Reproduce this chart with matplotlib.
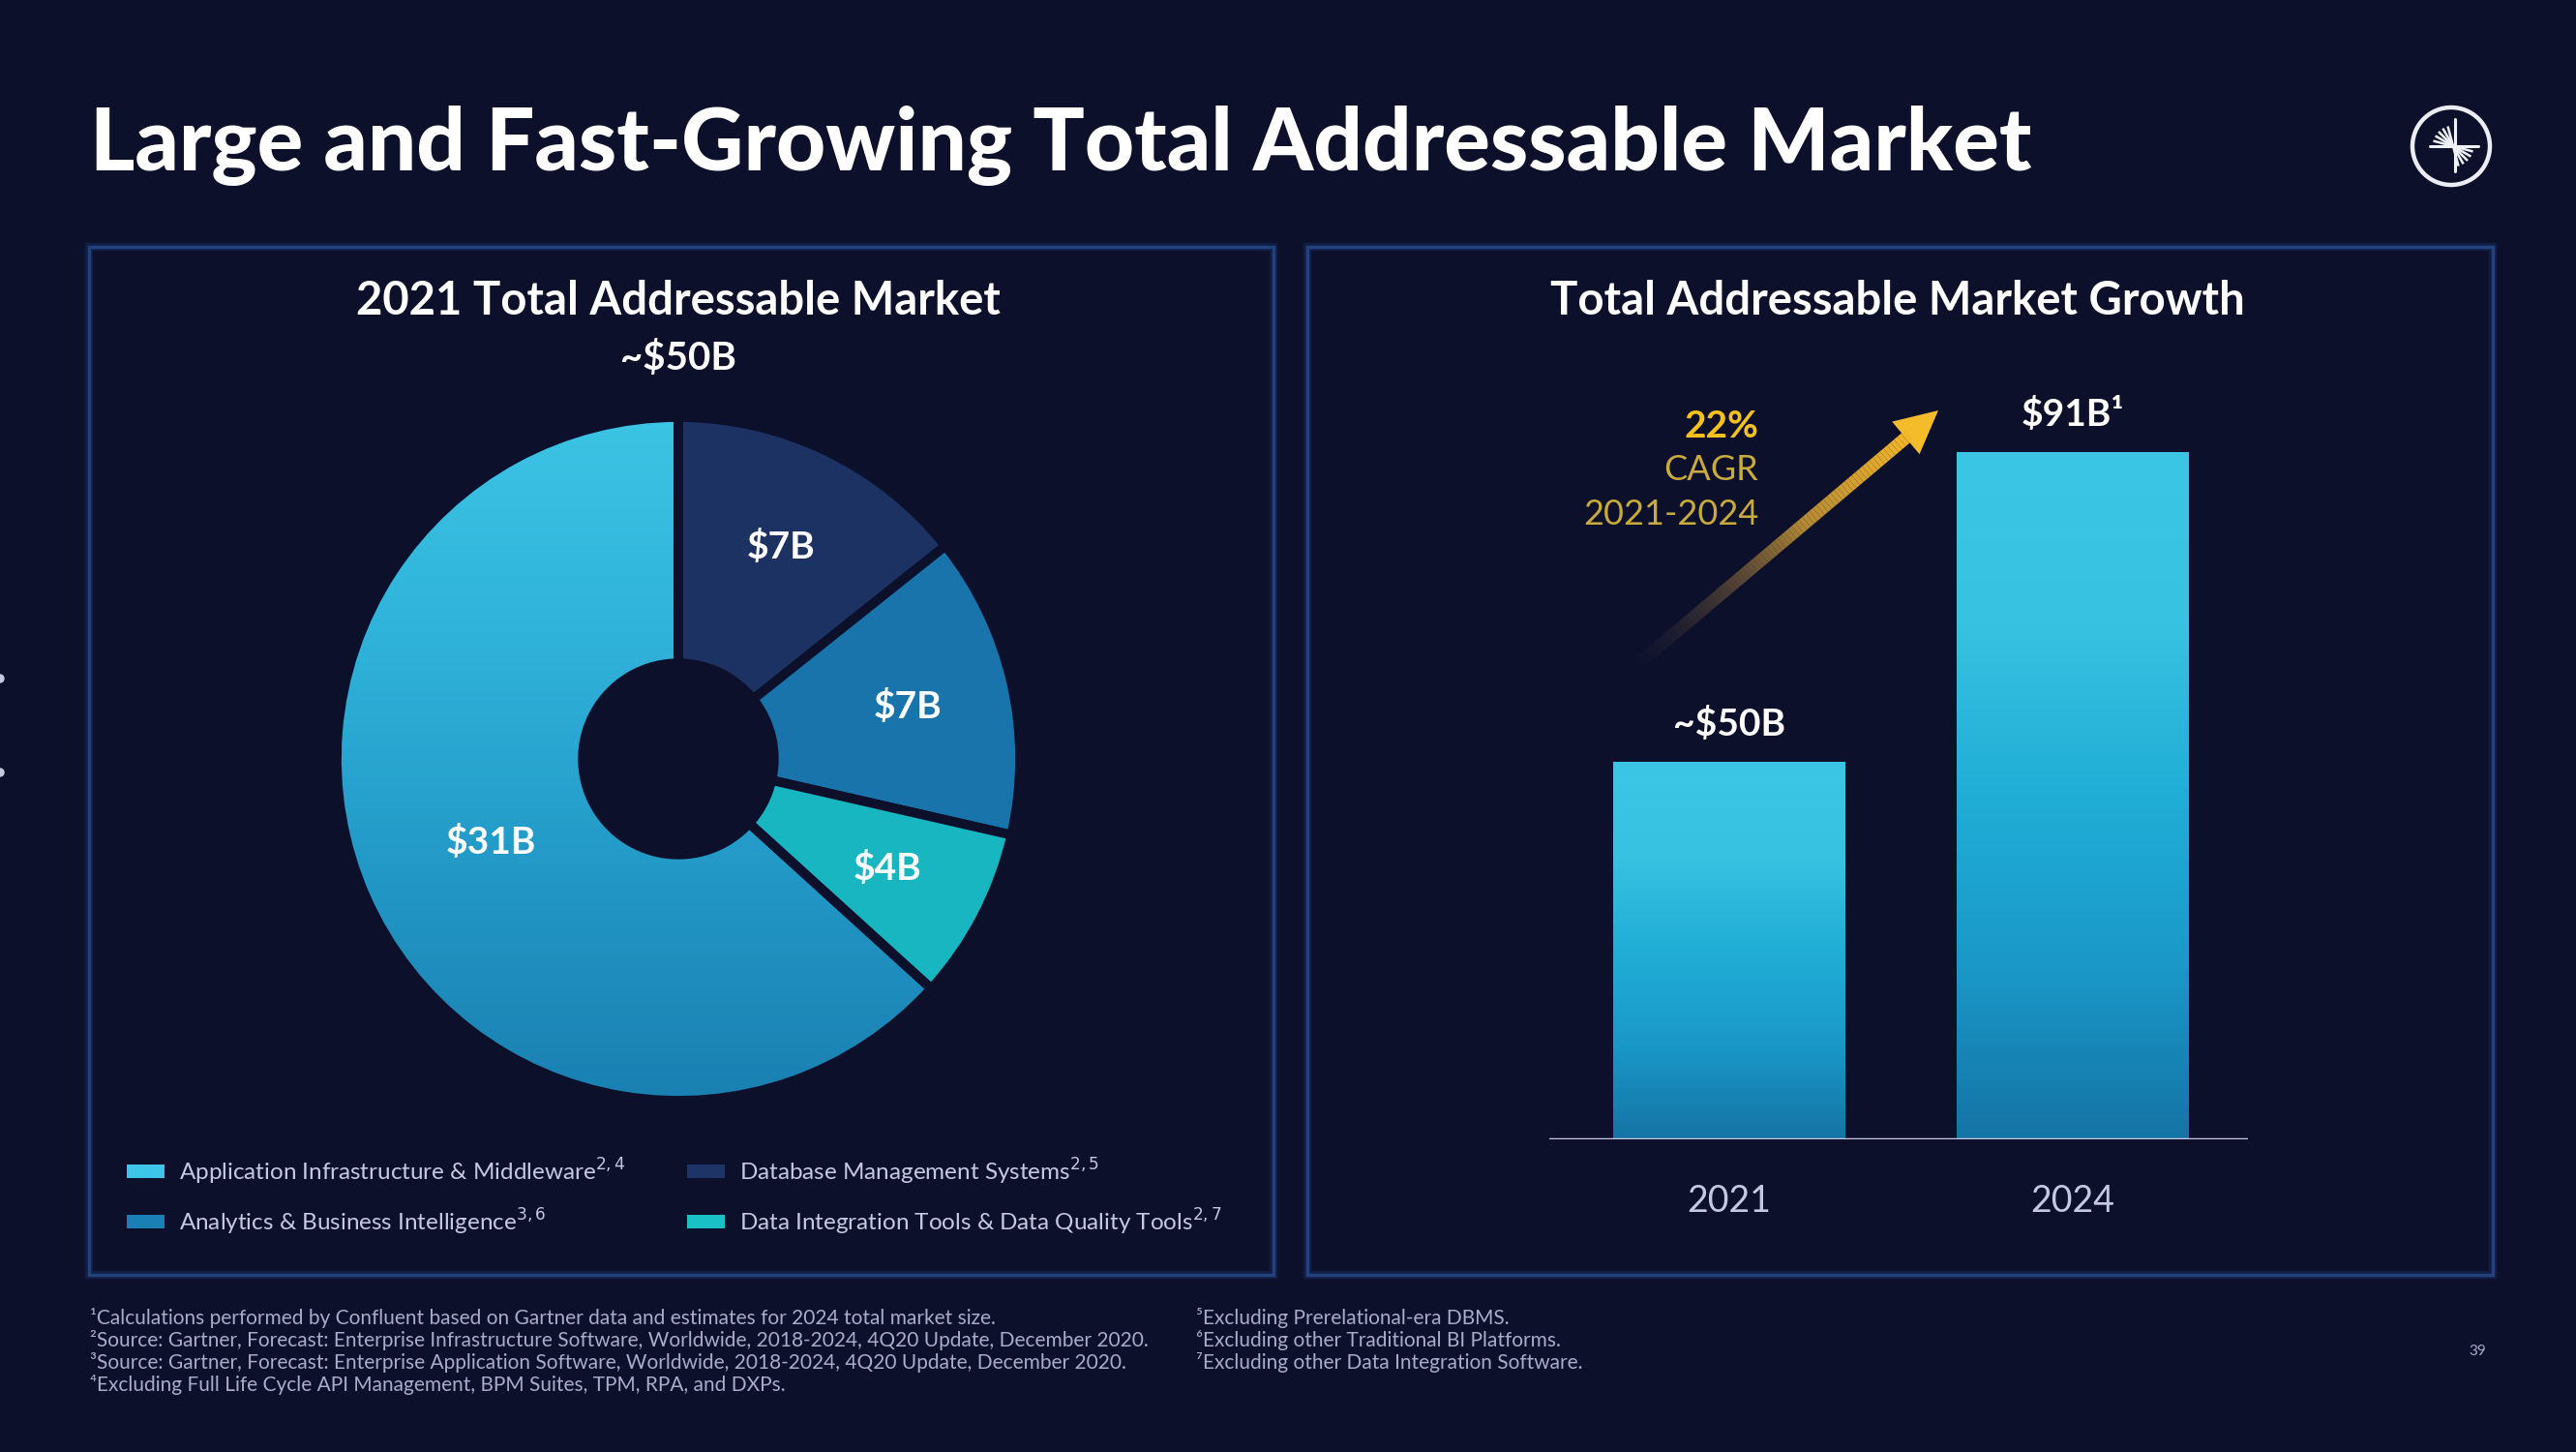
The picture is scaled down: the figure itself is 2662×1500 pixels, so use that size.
import numpy as np
import matplotlib
matplotlib.use("Agg")
import matplotlib.pyplot as plt
from matplotlib.patches import Rectangle, Circle, Polygon
from matplotlib.collections import LineCollection
from matplotlib.colors import LinearSegmentedColormap, to_rgba

# ---------------- data ----------------
title = "Large and Fast-Growing Total Addressable Market"
pie_title = "2021 Total Addressable Market"
pie_total = "~$50B"
segments = ["Database Management Systems", "Analytics & Business Intelligence",
            "Data Integration Tools & Data Quality Tools", "Application Infrastructure & Middleware"]
seg_values = [7, 7, 4, 31]
seg_labels = ["$7B", "$7B", "$4B", "$31B"]
seg_notes = ["2,5", "3,6", "2,7", "2,4"]

bar_title = "Total Addressable Market Growth"
years = ["2021", "2024"]
tam_values = [50, 91]
tam_labels = ["~$50B", "$91B¹"]
cagr_lines = ["22%", "CAGR", "2021-2024"]

foot_left = ["¹Calculations performed by Confluent based on Gartner data and estimates for 2024 total market size.",
             "²Source: Gartner, Forecast: Enterprise Infrastructure Software, Worldwide, 2018-2024, 4Q20 Update, December 2020.",
             "³Source: Gartner, Forecast: Enterprise Application Software, Worldwide, 2018-2024, 4Q20 Update, December 2020.",
             "⁴Excluding Full Life Cycle API Management, BPM Suites, TPM, RPA, and DXPs."]
foot_right = ["⁵Excluding Prerelational-era DBMS.",
              "⁶Excluding other Traditional BI Platforms.",
              "⁷Excluding other Data Integration Software."]
page_no = "39"

# ---------------- style ----------------
W, H = 2662, 1500
BG = "#0c102b"
PANEL = "#1b3670"
FONT = ["Lato", "DejaVu Sans"]
seg_colors = ["#1c3263", "#1874aa", "#17b6c0", "#2fb4dc"]
legend_colors = ["#1d3566", "#1a7fb5", "#19c1c6", "#3ec6e8"]
TXT = "#ffffff"
SUB = "#c4c8e0"
FOOT = "#a8accb"

plt.rcParams["font.family"] = FONT

fig = plt.figure(figsize=(W / 100, H / 100), dpi=100, facecolor=BG)


def px_rect(l, t, r, b):
    return [l / W, 1 - b / H, (r - l) / W, (b - t) / H]


bg = fig.add_axes([0, 0, 1, 1], zorder=0)
bg.set_xlim(0, W)
bg.set_ylim(H, 0)
bg.axis("off")
bg.set_facecolor(BG)

# panels
for (l, r) in [(92, 1316), (1351, 2576)]:
    bg.add_patch(Rectangle((l, 255), r - l, 1317 - 255, fill=False, ec=PANEL, lw=6, alpha=0.35))
    bg.add_patch(Rectangle((l, 255), r - l, 1317 - 255, fill=False, ec="#22427e", lw=2.5))

# title
bg.text(93, 150, title, color=TXT, fontsize=64, fontweight="black", va="center", ha="left")

# logo
bg.add_patch(Circle((2533, 151), 40, fill=False, ec="#ececf4", lw=3.2))
cx, cy = 2535, 151
bg.plot([cx - 24, cx + 26], [cy, cy], color="#f0f0f8", lw=2.2, solid_capstyle="round")
bg.plot([cx + 2, cx + 2], [cy - 28, cy + 26], color="#f0f0f8", lw=2.2, solid_capstyle="round")
for ang in np.linspace(105, 165, 5):
    a = np.radians(ang)
    bg.plot([cx, cx + 20 * np.cos(a)], [cy, cy - 20 * np.sin(a)], color="#f0f0f8", lw=1.8)
for ang in np.linspace(-15, -75, 5):
    a = np.radians(ang)
    bg.plot([cx, cx + 20 * np.cos(a)], [cy, cy - 20 * np.sin(a)], color="#f0f0f8", lw=1.8)

# left edge dots
for yy in (701, 798):
    bg.add_patch(Circle((0, yy), 4, color="#c8c8e0"))

# panel titles
bg.text(701, 311, pie_title, color=TXT, fontsize=34, fontweight="bold", ha="center", va="center")
bg.text(701, 370, pie_total, color=TXT, fontsize=29, fontweight="bold", ha="center", va="center")
bg.text(1961, 311, bar_title, color=TXT, fontsize=34, fontweight="bold", ha="center", va="center")

# legend (column 1: app infra, analytics; column 2: DBMS, data integration)
legend_order = [3, 1, 0, 2]
legend_pos = [(131, 1210), (131, 1262), (710, 1210), (710, 1262)]
for idx, (lx, ly) in zip(legend_order, legend_pos):
    bg.add_patch(Rectangle((lx, ly - 7), 39, 14, color=legend_colors[idx], lw=0))
    bg.text(lx + 54, ly, segments[idx] + r"$^{" + seg_notes[idx] + "}$", color=SUB,
            fontsize=17.5, ha="left", va="center")

# footnotes
for i, s in enumerate(foot_left):
    bg.text(93, 1362 + i * 22.7, s, color=FOOT, fontsize=15, ha="left", va="center")
for i, s in enumerate(foot_right):
    bg.text(1236, 1362 + i * 22.7, s, color=FOOT, fontsize=15, ha="left", va="center")
bg.text(2560, 1396, page_no, color=FOOT, fontsize=11, ha="center", va="center")

# CAGR annotation + gradient arrow
bg.text(1817, 440, cagr_lines[0], color="#f5c21c", fontsize=28, fontweight="bold", ha="right", va="center")
bg.text(1817, 486, cagr_lines[1], color="#c9aa3c", fontsize=26, ha="right", va="center")
bg.text(1817, 532, cagr_lines[2], color="#c9aa3c", fontsize=26, ha="right", va="center")

tail = np.array([1681.0, 696.0])
tip = np.array([2003.0, 424.0])
d = tip - tail
L = np.linalg.norm(d)
u = d / L
perp = np.array([-u[1], u[0]])
head_len = 44
base = tip - u * head_len
n = 80
pts = tail + np.outer(np.linspace(0, 1, n + 1), base + u * 4 - tail)
segs = np.stack([pts[:-1], pts[1:]], axis=1)
c0 = np.array(to_rgba("#4a3c48"))
c1 = np.array(to_rgba("#f2b62a"))
t = np.linspace(0, 1, n)
cols = (1 - t)[:, None] * c0 + t[:, None] * c1
cols[:, 3] = np.clip(t * 1.6, 0, 1) ** 1.2
bg.add_collection(LineCollection(segs, colors=cols, linewidths=9.5, capstyle="butt"))
bg.add_patch(Polygon([tip, base + perp * 22, base - perp * 22], closed=True, color="#f4bc2a", lw=0))

# ---------------- donut ----------------
R_PX = 353
CX, CY = 701, 784
half = 1.1 * R_PX
pax = fig.add_axes(px_rect(CX - half, CY - half, CX + half, CY + half), zorder=1)
pax.set_facecolor("none")
wedges, _ = pax.pie(seg_values, colors=seg_colors, startangle=90, counterclock=False,
                    radius=1.0, wedgeprops=dict(width=0.72, edgecolor=BG, linewidth=7))
pax.set_xlim(-1.1, 1.1)
pax.set_ylim(-1.1, 1.1)
pax.set_aspect("equal")
pax.axis("off")

# vertical gradient on the big slice
big = wedges[3]
pie_cmap = LinearSegmentedColormap.from_list("pg", ["#1a80b2", "#2298c6", "#2fb2da", "#3cc4e4"])
grad = np.linspace(0, 1, 256).reshape(-1, 1)
im = pax.imshow(grad, extent=(-1, 1, -1, 1), origin="lower", cmap=pie_cmap, aspect="auto", zorder=0.5)
im.set_clip_path(big)
big.set_facecolor("none")
for w_ in wedges:
    w_.set_zorder(2)
pax.set_xlim(-1.1, 1.1)
pax.set_ylim(-1.1, 1.1)

for w_, lab, v in zip(wedges, seg_labels, seg_values):
    mid = np.radians((w_.theta1 + w_.theta2) / 2)
    r = 0.60 if v > 10 else 0.69
    pax.text(r * np.cos(mid), r * np.sin(mid), lab, color=TXT, fontsize=28, fontweight="bold",
             ha="center", va="center", zorder=3)

# ---------------- bars ----------------
bax = fig.add_axes(px_rect(1601, 397, 2323, 1177), zorder=1)
bax.set_facecolor("none")
xpos = np.arange(len(years))
bars = bax.bar(xpos, tam_values, width=0.676, color="#2aaed8", zorder=2)
bar_cmap = LinearSegmentedColormap.from_list("bg", ["#1474a5", "#1a98c8", "#20aed6", "#38c2e2", "#3cc6e6"])
for rect in bars:
    x0, w, h = rect.get_x(), rect.get_width(), rect.get_height()
    imb = bax.imshow(grad, extent=(x0, x0 + w, 0, h), origin="lower", cmap=bar_cmap,
                     aspect="auto", zorder=3)
    imb.set_clip_path(rect)
bax.set_xlim(-0.524, 1.51)
bax.set_ylim(0, 100)
bax.axhline(0, color="#c9c9e2", lw=2.5, zorder=4)
for x, v, lab, yr in zip(xpos, tam_values, tam_labels, years):
    bax.text(x, v + 5, lab, color=TXT, fontsize=28, fontweight="bold", ha="center", va="center")
    bax.text(x, -8.2, yr, color=SUB, fontsize=27, ha="center", va="center", clip_on=False)
bax.axis("off")

fig.savefig("out.png", dpi=100, facecolor=BG)
